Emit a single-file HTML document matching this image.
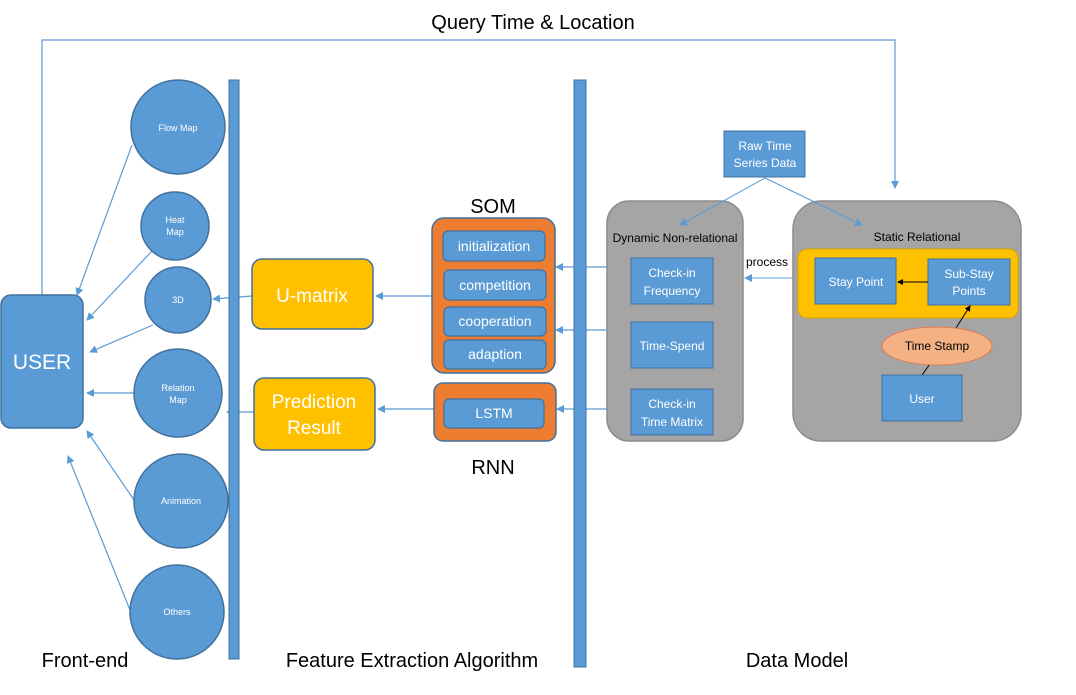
<!DOCTYPE html>
<html><head><meta charset="utf-8"><style>
html,body{margin:0;padding:0;background:#fff;}
svg{display:block;font-family:"Liberation Sans",sans-serif;}
.w{fill:#fff;text-anchor:middle;}
.k{fill:#000;text-anchor:middle;}
</style></head><body>
<svg width="1076" height="695" viewBox="0 0 1076 695" xmlns="http://www.w3.org/2000/svg">
<defs>
<marker id="a" markerWidth="8" markerHeight="8" refX="7" refY="4" orient="auto" markerUnits="userSpaceOnUse"><path d="M0,0 L8,4 L0,8 z" fill="#5b9bd5"/></marker>
<marker id="b" markerWidth="6" markerHeight="6" refX="5" refY="3" orient="auto" markerUnits="userSpaceOnUse"><path d="M0,0 L6,3 L0,6 z" fill="#000"/></marker>
</defs>
<g stroke="#5b9bd5" stroke-width="1.2" fill="none">
<polyline points="42,295 42,40 895,40 895,188" marker-end="url(#a)"/>
<line x1="132" y1="145" x2="77" y2="295" marker-end="url(#a)"/>
<line x1="152" y1="251" x2="87" y2="320" marker-end="url(#a)"/>
<line x1="153" y1="325" x2="90" y2="352" marker-end="url(#a)"/>
<line x1="134" y1="393" x2="87" y2="393" marker-end="url(#a)"/>
<line x1="134" y1="500" x2="87" y2="431" marker-end="url(#a)"/>
<line x1="130" y1="610" x2="68" y2="456" marker-end="url(#a)"/>
<line x1="252" y1="296" x2="213" y2="299" marker-end="url(#a)"/>
<line x1="254" y1="412" x2="227" y2="412" marker-end="url(#a)"/>
<line x1="432" y1="296" x2="376" y2="296" marker-end="url(#a)"/>
<line x1="434" y1="409" x2="378" y2="409" marker-end="url(#a)"/>
<line x1="631" y1="267" x2="556" y2="267" marker-end="url(#a)"/>
<line x1="631" y1="330" x2="556" y2="330" marker-end="url(#a)"/>
<line x1="631" y1="409" x2="557" y2="409" marker-end="url(#a)"/>
</g>
<rect x="229" y="80" width="10" height="579" fill="#5b9bd5" stroke="#41719c"/>
<rect x="574" y="80" width="12" height="587" fill="#5b9bd5" stroke="#41719c"/>
<rect x="1" y="295" width="82" height="133" rx="10" fill="#5b9bd5" stroke="#41719c" stroke-width="1.5"/>
<text x="42" y="369" class="w" font-size="21">USER</text>
<g fill="#5b9bd5" stroke="#41719c" stroke-width="1.5">
<circle cx="178" cy="127" r="47"/><circle cx="175" cy="226" r="34"/><circle cx="178" cy="300" r="33"/>
<circle cx="178" cy="393" r="44"/><circle cx="181" cy="501" r="47"/><circle cx="177" cy="612" r="47"/>
</g>
<g class="w" font-size="9">
<text x="178" y="131">Flow Map</text>
<text x="175" y="223">Heat</text><text x="175" y="235">Map</text>
<text x="178" y="303">3D</text>
<text x="178" y="391">Relation</text><text x="178" y="403">Map</text>
<text x="181" y="504">Animation</text>
<text x="177" y="615">Others</text>
</g>
<rect x="252" y="259" width="121" height="70" rx="10" fill="#ffc000" stroke="#41719c" stroke-width="1.5"/>
<text x="312" y="302" class="w" font-size="19">U-matrix</text>
<rect x="254" y="378" width="121" height="72" rx="10" fill="#ffc000" stroke="#41719c" stroke-width="1.5"/>
<text x="314" y="408" class="w" font-size="19">Prediction</text>
<text x="314" y="434" class="w" font-size="19">Result</text>
<text x="493" y="213" class="k" font-size="20">SOM</text>
<rect x="432" y="218" width="123" height="155" rx="12" fill="#ed7d31" stroke="#41719c" stroke-width="1.5"/>
<g fill="#5b9bd5" stroke="#41719c" stroke-width="1.2">
<rect x="443" y="231" width="102" height="30" rx="5"/>
<rect x="444" y="270" width="102" height="30" rx="5"/>
<rect x="444" y="307" width="102" height="29" rx="5"/>
<rect x="444" y="340" width="102" height="29" rx="5"/>
</g>
<g class="w" font-size="14">
<text x="494" y="251">initialization</text>
<text x="495" y="290">competition</text>
<text x="495" y="326">cooperation</text>
<text x="495" y="359">adaption</text>
</g>
<rect x="434" y="383" width="122" height="58" rx="9" fill="#ed7d31" stroke="#41719c" stroke-width="1.5"/>
<rect x="444" y="399" width="100" height="29" rx="5" fill="#5b9bd5" stroke="#41719c" stroke-width="1.2"/>
<text x="494" y="418" class="w" font-size="14">LSTM</text>
<text x="493" y="474" class="k" font-size="20">RNN</text>
<rect x="607" y="201" width="136" height="240" rx="22" fill="#a5a5a5" stroke="#8c8c8c" stroke-width="1.5"/>
<rect x="793" y="201" width="228" height="240" rx="28" fill="#a5a5a5" stroke="#8c8c8c" stroke-width="1.5"/>
<g stroke="#5b9bd5" stroke-width="1" fill="none">
<line x1="765" y1="178" x2="680" y2="225" marker-end="url(#a)"/>
<line x1="765" y1="178" x2="862" y2="225" marker-end="url(#a)"/>
<line x1="793" y1="278" x2="745" y2="278" marker-end="url(#a)"/>
</g>
<rect x="724" y="131" width="81" height="46" fill="#5b9bd5" stroke="#41719c"/>
<text x="765" y="150" class="w" font-size="12">Raw Time</text>
<text x="765" y="167" class="w" font-size="12">Series Data</text>
<text x="675" y="242" class="k" font-size="12">Dynamic Non-relational</text>
<text x="917" y="241" class="k" font-size="12">Static Relational</text>
<text x="767" y="266" class="k" font-size="12">process</text>
<g fill="#5b9bd5" stroke="#41719c">
<rect x="631" y="258" width="82" height="46"/>
<rect x="631" y="322" width="82" height="46"/>
<rect x="631" y="389" width="82" height="46"/>
</g>
<g class="w" font-size="12">
<text x="672" y="277">Check-in</text><text x="672" y="295">Frequency</text>
<text x="672" y="350">Time-Spend</text>
<text x="672" y="408">Check-in</text><text x="672" y="426">Time Matrix</text>
</g>
<rect x="798" y="249" width="220" height="69" rx="9" fill="#ffc000" stroke="#d9a400"/>
<rect x="815" y="258" width="81" height="46" fill="#5b9bd5" stroke="#41719c"/>
<rect x="928" y="259" width="82" height="46" fill="#5b9bd5" stroke="#41719c"/>
<text x="856" y="286" class="w" font-size="12">Stay Point</text>
<text x="969" y="278" class="w" font-size="12">Sub-Stay</text>
<text x="969" y="295" class="w" font-size="12">Points</text>
<line x1="928" y1="282" x2="898" y2="282" stroke="#000" stroke-width="1" marker-end="url(#b)"/>
<line x1="956" y1="328" x2="970" y2="306" stroke="#000" stroke-width="1" marker-end="url(#b)"/>
<line x1="922" y1="375" x2="930" y2="364" stroke="#000" stroke-width="1"/>
<ellipse cx="937" cy="346" rx="55" ry="19" fill="#f4b183" stroke="#e07b53"/>
<text x="937" y="350" class="k" font-size="12">Time Stamp</text>
<rect x="882" y="375" width="80" height="46" fill="#5b9bd5" stroke="#41719c"/>
<text x="922" y="403" class="w" font-size="12">User</text>
<text x="533" y="29" class="k" font-size="20">Query Time &amp; Location</text>
<text x="85" y="667" class="k" font-size="20">Front-end</text>
<text x="412" y="667" class="k" font-size="20">Feature Extraction Algorithm</text>
<text x="797" y="667" class="k" font-size="20">Data Model</text>
</svg>
</body></html>
